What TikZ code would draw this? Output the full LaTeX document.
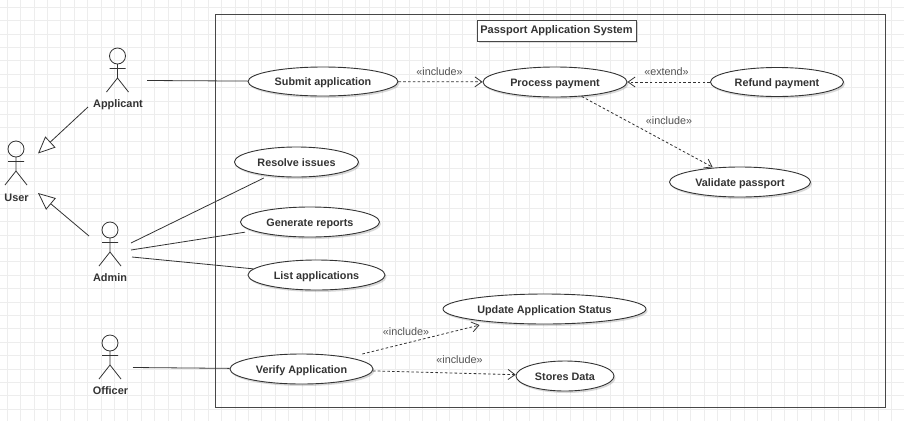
\documentclass[tikz,border=0pt]{standalone}
\usepackage{fontspec}
\setmainfont{Liberation Sans}
\usetikzlibrary{arrows.meta,shadows,shapes.geometric}
\definecolor{ink}{HTML}{333333}
\definecolor{gridc}{HTML}{EDEDED}
\newcommand{\uctext}[1]{\raisebox{-4.4pt}[0pt][0pt]{#1}}
\tikzset{
  usecase/.style={draw=ink,line width=0.9pt,ellipse,fill=white,inner sep=0pt,minimum width=#1,text=ink,font=\bfseries\fontsize{10.8}{12}\selectfont,drop shadow={shadow xshift=1.5pt,shadow yshift=-2pt,opacity=0.15,fill=black}},
  actorname/.style={text=ink,font=\bfseries\fontsize{10.9}{12}\selectfont,inner sep=0pt},
  stick/.style={draw=ink,line width=0.8pt},
  assoc/.style={draw=ink,line width=0.8pt},
  general/.style={draw=ink,line width=0.8pt,-{Triangle[open,length=17pt,width=15pt,fill=white]}},
  dep/.style={draw=ink,line width=0.8pt,dash pattern=on 2.6pt off 2.2pt,-{Straight Barb[length=7pt,width=10pt,line width=0.8pt]}},
  stereo/.style={text=ink!85,font=\fontsize{10.8}{12}\selectfont,inner sep=0pt},
  frameline/.style={draw=ink!90,line width=1pt},
  actor/.pic={
    \draw[stick] (0,-8) circle[radius=8];
    \draw[stick] (0,0) -- (0,14) (-8,4.5) -- (8,4.5) (0,14) -- (-11,28) (0,14) -- (11,28);
  }
}
\begin{document}
\begin{tikzpicture}[x=1pt,y=-1pt]
\useasboundingbox (0,0) rectangle (904,421);
\fill[white] (0,0) rectangle (904,421);
\foreach \i in {0,...,67} {\draw[gridc,line width=0.6pt] ({7+\i*13.4},0) -- ({7+\i*13.4},421);}
\foreach \i in {0,...,31} {\draw[gridc,line width=0.6pt] (0,{7+\i*13.4}) -- (904,{7+\i*13.4});}

% system frame
\node[frameline,fill=none,minimum width=669.5pt,minimum height=393pt,inner sep=0pt] (frame) at (550.25,210.5) {};
\node[draw=ink!90,line width=1pt,fill=white,minimum width=159pt,minimum height=21pt,inner sep=0pt,text=ink,font=\bfseries\fontsize{11}{12}\selectfont,drop shadow={shadow xshift=1.5pt,shadow yshift=-1.5pt,opacity=0.12,fill=black}] (title) at (556.5,31) {Passport Application System};

% actors
\pic at (117.5,64) {actor};
\pic at (16,157) {actor};
\pic at (110,238) {actor};
\pic at (110,351) {actor};
\node[actorname] (applicant) at (118,104.5) {Applicant};
\node[actorname] (user) at (16.5,198) {User};
\node[actorname] (admin) at (110,278) {Admin};
\node[actorname] (officer) at (110.5,391) {Officer};

% connector free ends at the actors
\coordinate (applicantR) at (147,80.5);
\coordinate (applicantG) at (88,107);
\coordinate (userA) at (38,153.5);
\coordinate (userB) at (38,193);
\coordinate (adminG) at (89,236);
\coordinate (adminR1) at (131,243);
\coordinate (adminR2) at (131,250);
\coordinate (adminR3) at (132,257);
\coordinate (officerR) at (133,367.5);

% use cases
\node[usecase=150pt,minimum height=29pt] (submit) at (323,81.5) {\uctext{Submit application}};
\node[usecase=144pt,minimum height=30pt] (payment) at (555,82) {\uctext{Process payment}};
\node[usecase=133pt,minimum height=29pt] (refund) at (777,82) {\uctext{Refund payment}};
\node[usecase=124pt,minimum height=30pt] (resolve) at (296.5,162) {\uctext{Resolve issues}};
\node[usecase=139pt,minimum height=30pt] (reports) at (310,222) {\uctext{Generate reports}};
\node[usecase=137pt,minimum height=30pt] (list) at (316.5,275) {\uctext{List applications}};
\node[usecase=141pt,minimum height=30pt] (validate) at (740,182) {\uctext{Validate passport}};
\node[usecase=203pt,minimum height=30pt] (status) at (544.5,309) {\uctext{Update Application Status}};
\node[usecase=143pt,minimum height=30pt] (verify) at (301.5,369) {\uctext{Verify Application}};
\node[usecase=98pt,minimum height=30pt] (stores) at (565,376) {\uctext{Stores Data}};

% connectors
\draw[assoc] (applicantR) -- (submit);
\draw[general] (applicantG) -- (userA);
\draw[general] (adminG) -- (userB);
\draw[assoc,shorten >=5pt] (adminR1) -- (resolve);
\draw[assoc,shorten >=8pt] (adminR2) -- (reports);
\draw[assoc] (adminR3) -- (list);
\draw[assoc] (officerR) -- (verify);
\draw[dep] (submit) -- (payment);
\draw[dep] (refund) -- (payment);
\draw[dep,shorten >=1pt] (payment) -- (validate);
\draw[dep,shorten <=14pt,shorten >=12pt] (verify) -- (status);
\draw[dep] (verify) -- (stores);

% stereotypes
\node[stereo] (s1) at (439.5,71.5) {«include»};
\node[stereo] (s2) at (666.5,71.5) {«extend»};
\node[stereo] (s3) at (669,121) {«include»};
\node[stereo] (s4) at (406,331.5) {«include»};
\node[stereo] (s5) at (459.5,359.5) {«include»};
\end{tikzpicture}
\end{document}
